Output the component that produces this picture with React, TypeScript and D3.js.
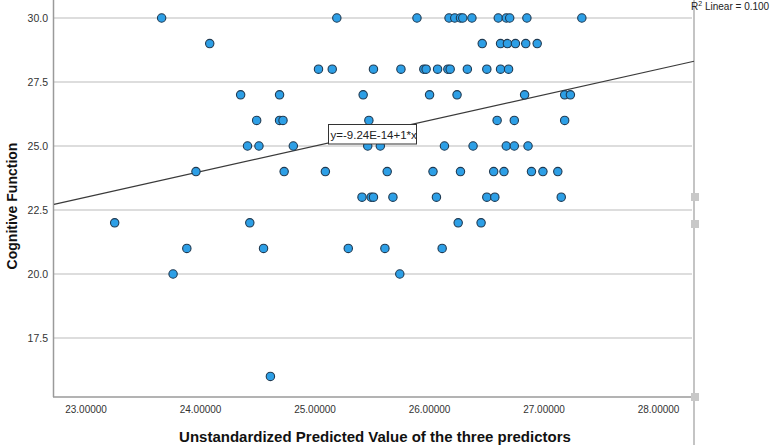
import React from "react";
import * as d3 from "d3";

// Cognitive Function scores (y) and predicted values (x), one entry per case
const cognitive: number[] = [
  30, 30, 30, 30, 30, 30, 30, 30, 30, 30, 30, 30, 30,
  29, 29, 29, 29, 29, 29, 29,
  28, 28, 28, 28, 28, 28, 28, 28, 28, 28, 28, 28, 28,
  27, 27, 27, 27, 27, 27, 27, 27,
  26, 26, 26, 26, 26, 26, 26,
  25, 25, 25, 25, 25, 25, 25, 25, 25, 25,
  24, 24, 24, 24, 24, 24, 24, 24, 24, 24, 24,
  23, 23, 23, 23, 23, 23, 23, 23,
  22, 22, 22, 22,
  21, 21, 21, 21, 21,
  20, 20,
  16,
];
const predicted: number[] = [
  23.66, 25.19, 25.89, 26.17, 26.22, 26.27, 26.29, 26.37, 26.6, 26.67, 26.7, 26.85, 27.33,
  24.08, 26.46, 26.62, 26.68, 26.75, 26.84, 26.94,
  25.03, 25.15, 25.51, 25.75, 25.95, 25.97, 26.07, 26.16, 26.18, 26.33, 26.5, 26.62, 26.69,
  24.35, 24.69, 25.42, 26.0, 26.24, 26.83, 27.18, 27.23,
  24.49, 24.69, 24.72, 25.47, 26.59, 26.74, 27.18,
  24.41, 24.51, 24.81, 25.46, 25.57, 26.13, 26.38, 26.67, 26.74, 26.86,
  23.96, 24.73, 25.09, 25.63, 26.03, 26.27, 26.56, 26.65, 26.89, 26.99, 27.12,
  25.41, 25.49, 25.51, 25.68, 26.06, 26.5, 26.57, 27.15,
  23.25, 24.43, 26.25, 26.45,
  23.88, 24.55, 25.29, 25.61, 26.11,
  23.76, 25.74,
  24.61,
];

const xTicks: number[] = [23, 24, 25, 26, 27, 28];
const yTicks: number[] = [17.5, 20, 22.5, 25, 27.5, 30];
const fitIntercept = -9.24e-14;
const fitSlope = 1;
const fitLabel = "y=-9.24E-14+1*x";
const r2Label = "0.100";
const xTitle = "Unstandardized Predicted Value of the three predictors";
const yTitle = "Cognitive Function";

const W = 770;
const H = 445;
const left = 54;
const right = 694;
const bottom = 397;

export default function App() {
  const x = d3.scaleLinear().domain([22.72, 22.72 + (right - left) / 114.5]).range([left, right]);
  const y = d3.scaleLinear().domain([30, 15.195]).range([18, bottom]);
  const [x0, x1] = x.domain();
  const lineGen = d3
    .line<number>()
    .x((d) => x(d))
    .y((d) => y(fitIntercept + fitSlope * d));
  const font = "'Liberation Sans', Arial, sans-serif";
  const xf = d3.format(".5f");
  const yf = d3.format(".1f");
  const handles = [197, 224, bottom];

  return (
    <svg
      width={W}
      height={H}
      style={{ position: "absolute", left: 0, top: 0, background: "#fff" }}
      fontFamily={font}
    >
      <rect x={0} y={0} width={W} height={H} fill="#fff" />
      {/* gridlines */}
      {yTicks.map((t) => (
        <line key={t} x1={left} x2={right - 2} y1={y(t)} y2={y(t)} stroke="#d2d2d2" strokeWidth={1.5} />
      ))}
      {/* axes */}
      <line x1={left - 0.5} x2={left - 0.5} y1={0} y2={bottom} stroke="#9a9a9a" strokeWidth={1.5} />
      <line x1={left - 1} x2={right} y1={bottom} y2={bottom} stroke="#9a9a9a" strokeWidth={1.5} />
      <line x1={right} x2={right} y1={0} y2={H} stroke="#c4c4c4" strokeWidth={2} />
      {handles.map((h) => (
        <rect key={h} x={right - 3} y={h - 4} width={8} height={8} fill="#c8c8c8" />
      ))}
      {/* y tick labels */}
      {yTicks.map((t) => (
        <text key={t} x={48} y={y(t)} dy="0.35em" textAnchor="end" fontSize={10.5} fill="#333">
          {yf(t)}
        </text>
      ))}
      {/* x tick labels */}
      {xTicks.map((t) => (
        <text key={t} x={x(t)} y={413} textAnchor="middle" fontSize={10} fill="#333">
          {xf(t)}
        </text>
      ))}
      {/* fit line */}
      <path d={lineGen([x0, x1]) || ""} fill="none" stroke="#3a3a3a" strokeWidth={1.2} />
      {/* points */}
      {predicted.map((p, i) => (
        <circle key={i} cx={x(p)} cy={y(cognitive[i])} r={4.2} fill="#2d9fe6" stroke="#1f3a52" strokeWidth={1.1} />
      ))}
      {/* fit label box */}
      <rect x={328.5} y={124.5} width={88} height={19.5} fill="#fff" stroke="#333" strokeWidth={1} />
      <text x={330.5} y={139} fontSize={11.5} fill="#222">
        {fitLabel}
      </text>
      {/* R2 label */}
      <text x={691} y={10} fontSize={10} fill="#222">
        R<tspan dy={-4} fontSize={7}>2</tspan>
        <tspan dy={4}> Linear = {r2Label}</tspan>
      </text>
      {/* titles */}
      <text x={375} y={442} textAnchor="middle" fontSize={15} fontWeight="bold" fill="#111">
        {xTitle}
      </text>
      <text
        transform={`translate(17,${206}) rotate(-90)`}
        textAnchor="middle"
        fontSize={14}
        fontWeight="bold"
        fill="#111"
      >
        {yTitle}
      </text>
    </svg>
  );
}
